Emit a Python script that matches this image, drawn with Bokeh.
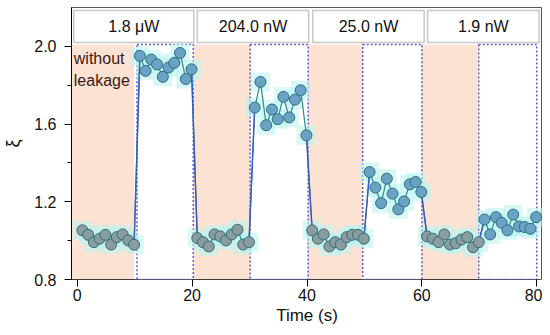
from bokeh.plotting import figure
from bokeh.models import FixedTicker, PrintfTickFormatter
from bokeh.core.properties import value
from bokeh.embed import file_html
from bokeh.resources import INLINE

# ---- data ----
time_s = [0.9, 1.9, 2.9, 3.9, 4.9, 5.9, 6.9, 7.9, 8.9, 9.9,
          10.9, 11.9, 12.9, 13.9, 14.9, 15.9, 16.9, 17.9, 18.9, 19.9,
          20.9, 21.9, 22.9, 23.9, 24.9, 25.9, 26.9, 27.9, 28.9, 29.9,
          30.9, 31.9, 32.9, 33.9, 34.9, 35.9, 36.9, 37.9, 38.9, 39.9,
          40.9, 41.9, 42.9, 43.9, 44.9, 45.9, 46.9, 47.9, 48.9, 49.9,
          50.9, 51.9, 52.9, 53.9, 54.9, 55.9, 56.9, 57.9, 58.9, 59.9,
          60.9, 61.9, 62.9, 63.9, 64.9, 65.9, 66.9, 67.9, 68.9, 69.9,
          70.9, 71.9, 72.9, 73.9, 74.9, 75.9, 76.9, 77.9, 78.9, 79.9]

xi_off_1 = [1.053, 1.030, 0.992, 1.010, 1.030, 0.980, 1.018, 1.032, 1.001, 0.979]
xi_on_1 = [1.951, 1.874, 1.932, 1.907, 1.843, 1.891, 1.915, 1.966, 1.832, 1.882]
xi_off_2 = [1.013, 0.992, 0.970, 1.032, 1.022, 1.001, 1.032, 1.056, 0.980, 0.992]
xi_on_2 = [1.685, 1.817, 1.594, 1.675, 1.625, 1.740, 1.634, 1.726, 1.774, 1.542]
xi_off_3 = [1.053, 1.010, 1.032, 0.970, 0.992, 0.980, 1.018, 1.030, 1.030, 1.010]
xi_on_3 = [1.353, 1.273, 1.193, 1.319, 1.242, 1.161, 1.202, 1.290, 1.302, 1.250]
xi_off_4 = [1.022, 1.010, 0.992, 1.032, 0.980, 0.987, 1.006, 1.018, 0.966, 0.992]
xi_on_4 = [1.109, 1.032, 1.121, 1.092, 1.053, 1.134, 1.073, 1.070, 1.061, 1.121]

power_labels = ["1.8 \u03bcW", "204.0 nW", "25.0 nW", "1.9 nW"]

# phase boundaries (s)
off_start = [-1.0, 20.2, 40.2, 60.0]
off_end = [9.9, 30.1, 49.7, 69.9]
on_start = [10.4, 30.1, 49.7, 69.9]
on_end = [20.2, 40.2, 60.0, 80.0]
label_left = [-0.6, 20.9, 41.0, 61.0]
label_right = [20.3, 40.3, 60.4, 80.4]

x_ticks = [0, 20, 40, 60, 80]
y_ticks = [0.8, 1.2, 1.6, 2.0]
y_minor = [1.0, 1.4, 1.8]

# ---- assemble ----
xi_all = xi_off_1 + xi_on_1 + xi_off_2 + xi_on_2 + xi_off_3 + xi_on_3 + xi_off_4 + xi_on_4
n = len(xi_off_1)
off_idx = [i for i in range(len(xi_all)) if (i // n) % 2 == 0]
on_idx = [i for i in range(len(xi_all)) if (i // n) % 2 == 1]

FONT = "Liberation Sans"
Y0, Y1 = 0.8, 2.2

p = figure(width=542, height=327, x_range=(-1, 81), y_range=(Y0, Y1),
           output_backend="svg", toolbar_location=None,
           min_border_left=67, min_border_right=0, min_border_top=7,
           min_border_bottom=0)
p.xgrid.visible = False
p.ygrid.visible = False
p.outline_line_color = "#555555"
p.outline_line_width = 1
p.background_fill_color = "white"

y_top = 2.01
# shaded "without leakage" periods
p.quad(left=off_start, right=off_end, bottom=Y0, top=y_top,
       fill_color="#fce2d3", line_color=None)
# bottom black edge under shaded regions
p.segment(x0=off_start, x1=off_end, y0=Y0, y1=Y0, line_color="black", line_width=1.2)

# dashed boxes for leakage periods
p.quad(left=on_start, right=on_end, bottom=Y0, top=y_top,
       fill_alpha=0, line_color="#5b5bd6", line_dash="2 2", line_width=1.5)

# header boxes
p.quad(left=label_left, right=label_right, bottom=2.02, top=2.185,
       fill_color="white", line_color="#c8c8c8", line_width=1.5)
p.text(x=[(a + b) / 2 for a, b in zip(label_left, label_right)], y=[2.102] * 4,
       text=power_labels, text_font=value(FONT), text_font_size="16px",
       text_align="center", text_baseline="middle", text_color="#111111")

p.text(x=[-0.6, -0.6], y=[1.935, 1.825], text=["without", "leakage"],
       text_font=value(FONT), text_font_size="16px", text_align="left",
       text_baseline="middle", text_color="#3a1a14")

# glow behind points
p.scatter(x=time_s, y=xi_all, marker="square", size=19,
          fill_color="#b8f4f0", fill_alpha=0.55, line_color=None)

# connecting line
p.line(x=time_s, y=xi_all, line_color="#2f8a8a", line_width=1.2)
tr = [i for i in range(len(xi_all) - 1) if (i + 1) % n == 0]
p.segment(x0=[time_s[i] for i in tr], x1=[time_s[i + 1] for i in tr],
          y0=[xi_all[i] for i in tr], y1=[xi_all[i + 1] for i in tr],
          line_color="#3a5cb8", line_width=1.4)

# points
p.scatter(x=[time_s[i] for i in off_idx], y=[xi_all[i] for i in off_idx],
          size=11, fill_color="#8a9c9e", line_color="#2d6f7c", line_width=1)
p.scatter(x=[time_s[i] for i in on_idx], y=[xi_all[i] for i in on_idx],
          size=11, fill_color="#6aa2c6", line_color="#2d6f7c", line_width=1)

# axes
p.xaxis.ticker = FixedTicker(ticks=x_ticks)
p.yaxis.ticker = FixedTicker(ticks=y_ticks, minor_ticks=y_minor)
p.yaxis.formatter = PrintfTickFormatter(format="%.1f")
for ax in (p.xaxis, p.yaxis):
    ax.axis_line_color = "black"
    ax.major_tick_line_color = "black"
    ax.minor_tick_line_color = "black"
    ax.major_tick_in = 0
    ax.major_tick_out = 7
    ax.minor_tick_in = 0
    ax.minor_tick_out = 4
    ax.major_label_text_font = FONT
    ax.major_label_text_font_size = "16px"
    ax.major_label_text_color = "#111111"
    ax.axis_label_text_font = FONT
    ax.axis_label_text_font_style = "normal"
    ax.axis_label_text_color = "#111111"
p.xaxis.minor_tick_out = 0
p.xaxis.axis_line_color = None
p.xaxis.major_label_standoff = 2
p.yaxis.major_label_standoff = 8
p.xaxis.axis_label = "Time (s)"
p.xaxis.axis_label_text_font_size = "17px"
p.xaxis.axis_label_standoff = 2
p.yaxis.axis_label = "\u03be"
p.yaxis.axis_label_text_font_size = "18px"
p.yaxis.axis_label_standoff = 8

open("out.html", "w").write(file_html(p, INLINE))
